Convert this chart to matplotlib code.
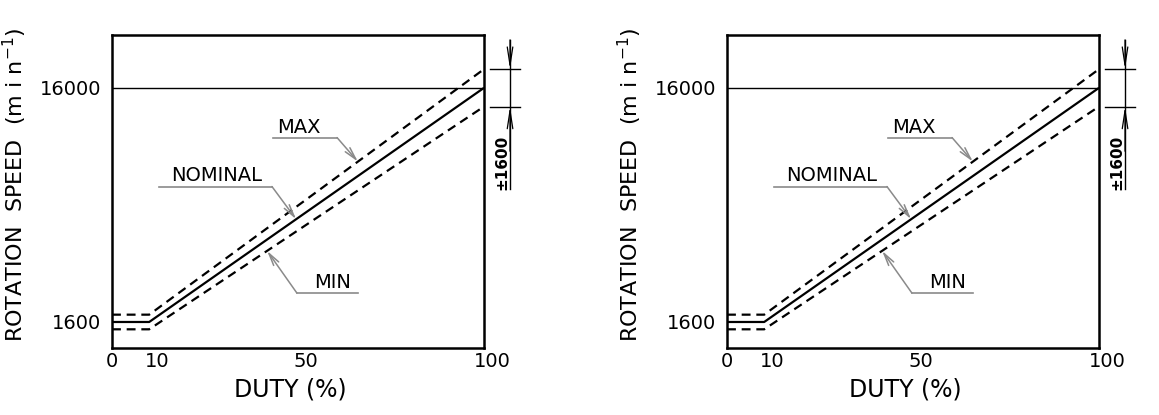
import numpy as np
import matplotlib
matplotlib.use("Agg")
import matplotlib.pyplot as plt
from matplotlib.transforms import ScaledTranslation

plt.rcParams['font.family'] = ['DejaVu Sans']

# data
duty = [0, 10, 100]
nominal_rpm = [1600, 1600, 16000]
max_rpm = [2050, 2050, 17150]
min_rpm = [1150, 1150, 14850]
x_ticks = [0, 10, 50, 100]
y_ticks = [1600, 16000]
tol_label = "±1600"


def draw_panel(ax):
    ax.plot(duty, nominal_rpm, color='black', lw=1.6, solid_capstyle='butt')
    ax.plot(duty, max_rpm, color='black', lw=1.6, linestyle=(0, (4, 2.6)))
    ax.plot(duty, min_rpm, color='black', lw=1.6, linestyle=(0, (4, 2.6)))
    ax.axhline(nominal_rpm[-1], color='black', lw=1.0)

    ax.set_xlim(0, 100)
    ax.set_ylim(0, 19250)
    ax.set_xticks(x_ticks)
    ax.set_xticklabels([str(t) for t in x_ticks], fontsize=14)
    ax.set_yticks(y_ticks)
    ax.set_yticklabels([str(t) for t in y_ticks], fontsize=14)
    ax.tick_params(length=0)
    ax.tick_params(axis='y', pad=8)
    ax.tick_params(axis='x', pad=3)
    for lab in ax.get_xticklabels()[1:]:
        lab.set_transform(lab.get_transform() + ScaledTranslation(8 / 100, 0, ax.figure.dpi_scale_trans))
    for s in ax.spines.values():
        s.set_linewidth(1.8)

    ax.set_xlabel("DUTY (%)", fontsize=17)
    ax.xaxis.set_label_coords(0.48, -0.095)
    ax.xaxis.label.set_va('top')
    ax.set_ylabel("ROTATION  SPEED  (m i n$^{-1}$)", fontsize=16)
    ax.yaxis.set_label_coords(-0.222, 0.52)

    # curve callouts: text, underline span, arrow target on curve
    grey = '#8a8a8a'
    callouts = [
        ("MAX", max_rpm, 50.3, 13550, (43.3, 60.5), 12940, 66.1),
        ("NOMINAL", nominal_rpm, 28.0, 10600, (12.6, 43.0), 9930, 49.5),
        ("MIN", min_rpm, 59.4, 4050, (49.7, 66.1), 3380, 41.7),
    ]
    for text, series, tx, ty, (u0, u1), uy, ax_x in callouts:
        ax.text(tx, ty, text, fontsize=14, ha='center', va='center')
        ax.plot([u0, u1], [uy, uy], color=grey, lw=1.2)
        start = u1 if text != "MIN" else u0
        tip_y = np.interp(ax_x, duty, series)
        ax.annotate('', xy=(ax_x, tip_y), xytext=(start, uy),
                    arrowprops=dict(arrowstyle='->,head_length=0.9,head_width=0.22',
                                    color=grey, lw=1.1, shrinkA=0, shrinkB=0))

    # tolerance dimension on the right
    dim_x = 107.0
    ax.plot([101.6, 109.8], [max_rpm[-1], max_rpm[-1]], color='black', lw=1.0, clip_on=False)
    ax.plot([101.6, 109.8], [min_rpm[-1], min_rpm[-1]], color='black', lw=1.0, clip_on=False)
    ax.plot([dim_x, dim_x], [18950, 9750], color='black', lw=1.0, clip_on=False)
    ax.annotate('', xy=(dim_x, max_rpm[-1]), xytext=(dim_x, 18950),
                arrowprops=dict(arrowstyle='->,head_length=1.3,head_width=0.2',
                                color='black', lw=0.9, shrinkA=0, shrinkB=0),
                annotation_clip=False)
    ax.annotate('', xy=(dim_x, min_rpm[-1]), xytext=(dim_x, 12100),
                arrowprops=dict(arrowstyle='->,head_length=1.3,head_width=0.2',
                                color='black', lw=0.9, shrinkA=0, shrinkB=0),
                annotation_clip=False)
    ax.text(dim_x - 0.3, 11400, tol_label, rotation=90, fontsize=11, fontweight='bold',
            ha='right', va='center', clip_on=False)


fig = plt.figure(figsize=(11.59, 4.15), dpi=100)
ax1 = fig.add_axes([112 / 1159, 1 - 348 / 415, 372 / 1159, 313 / 415])
ax2 = fig.add_axes([727 / 1159, 1 - 348 / 415, 372 / 1159, 313 / 415])
draw_panel(ax1)
draw_panel(ax2)

fig.savefig("out.png", dpi=100)
